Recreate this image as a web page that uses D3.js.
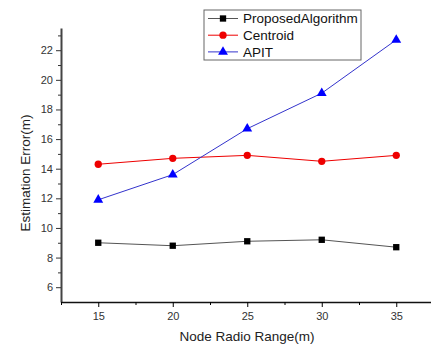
<!DOCTYPE html>
<html>
<head>
<meta charset="utf-8">
<script src="https://cdn.jsdelivr.net/npm/d3@7"></script>
<style>
  body { margin: 0; background: #fff; }
  svg { display: block; font-family: "Liberation Sans", Arial, sans-serif; }
</style>
</head>
<body>
<script>
// data
var ranges = [15, 20, 25, 30, 35];
var proposed = [9.0, 8.8, 9.1, 9.2, 8.7];
var centroid = [14.3, 14.7, 14.9, 14.5, 14.9];
var apit = [11.9, 13.6, 16.7, 19.1, 22.7];
var seriesNames = ["ProposedAlgorithm", "Centroid", "APIT"];
var xTicks = [15, 20, 25, 30, 35];
var yTicks = [6, 8, 10, 12, 14, 16, 18, 20, 22];

var W = 431, H = 345;
var svg = d3.select("body").append("svg")
  .attr("width", W).attr("height", H);

var x = d3.scaleLinear().domain([12.5, 37.5]).range([61, 433.5]);
var y = d3.scaleLinear().domain([5, 23.5]).range([302, 28]);

var series = [
  {name: seriesNames[0], vals: proposed, line: "#555", fill: "#000", shape: d3.symbolSquare, size: 40},
  {name: seriesNames[1], vals: centroid, line: "#e00", fill: "#e00", shape: d3.symbolCircle, size: 42},
  {name: seriesNames[2], vals: apit, line: "#33c", fill: "#00f", shape: d3.symbolTriangle, size: 42}
];

// y axis (left)
var yAxis = svg.append("g").attr("transform", "translate(61,0)")
  .call(d3.axisLeft(y).tickValues(yTicks).tickSize(5).tickPadding(3).tickSizeOuter(0));
yAxis.select(".domain").attr("stroke", "#444").attr("stroke-width", 2);
yAxis.selectAll(".tick line").attr("stroke", "#333");
yAxis.selectAll("text").attr("font-size", 11).attr("fill", "#333")
  .attr("font-family", "Liberation Sans, Arial, sans-serif");
// minor y ticks
svg.append("g").attr("transform", "translate(61,0)")
  .call(d3.axisLeft(y).tickValues(d3.range(7, 24, 2)).tickSize(3).tickFormat(""))
  .call(function(g){ g.select(".domain").remove(); })
  .selectAll(".tick line").attr("stroke", "#333");

// x axis (bottom)
var xAxis = svg.append("g").attr("transform", "translate(0,302)")
  .call(d3.axisBottom(x).tickValues(xTicks).tickSize(5).tickPadding(5).tickSizeOuter(0));
xAxis.select(".domain").attr("stroke", "#111").attr("stroke-width", 1.5);
xAxis.selectAll("text").attr("font-size", 11).attr("fill", "#333")
  .attr("font-family", "Liberation Sans, Arial, sans-serif");
svg.append("g").attr("transform", "translate(0,302)")
  .call(d3.axisBottom(x).tickValues([12.5, 17.5, 22.5, 27.5, 32.5, 37.5]).tickSize(3).tickFormat(""))
  .call(function(g){ g.select(".domain").remove(); });

// axis titles
svg.append("text")
  .attr("x", 247).attr("y", 341)
  .attr("text-anchor", "middle")
  .attr("font-size", 13.5).attr("fill", "#222")
  .text("Node Radio Range(m)");
svg.append("text")
  .attr("transform", "translate(30,173) rotate(-90)")
  .attr("text-anchor", "middle")
  .attr("font-size", 13.5).attr("fill", "#222")
  .text("Estimation Error(m)");

// lines and markers
var line = d3.line()
  .x(function(d, i) { return x(ranges[i]); })
  .y(function(d) { return y(d); });

series.forEach(function(s) {
  svg.append("path")
    .datum(s.vals)
    .attr("d", line)
    .attr("fill", "none")
    .attr("stroke", s.line)
    .attr("stroke-width", 1);
  svg.selectAll(null)
    .data(s.vals)
    .enter().append("path")
    .attr("transform", function(d, i) { return "translate(" + x(ranges[i]) + "," + y(d) + ")"; })
    .attr("d", d3.symbol().type(s.shape).size(s.size))
    .attr("fill", s.fill);
});

// legend
var legend = svg.append("g").attr("transform", "translate(204,10)");
legend.append("rect")
  .attr("x", 0).attr("y", 0)
  .attr("width", 157).attr("height", 50)
  .attr("fill", "#fff")
  .attr("stroke", "#666").attr("stroke-width", 1);
var item = legend.selectAll("g.item")
  .data(series)
  .enter().append("g")
  .attr("class", "item")
  .attr("transform", function(d, i) { return "translate(0," + (8.5 + i * 16.7) + ")"; });
item.append("line")
  .attr("x1", 4).attr("x2", 34)
  .attr("stroke", function(d) { return d.line; });
item.append("path")
  .attr("transform", "translate(19,0)")
  .attr("d", function(d) { return d3.symbol().type(d.shape).size(d.size)(); })
  .attr("fill", function(d) { return d.fill; });
item.append("text")
  .attr("x", 39).attr("y", 0)
  .attr("dy", "0.36em")
  .attr("font-size", 13.5).attr("fill", "#111")
  .text(function(d) { return d.name; });
</script>
</body>
</html>
